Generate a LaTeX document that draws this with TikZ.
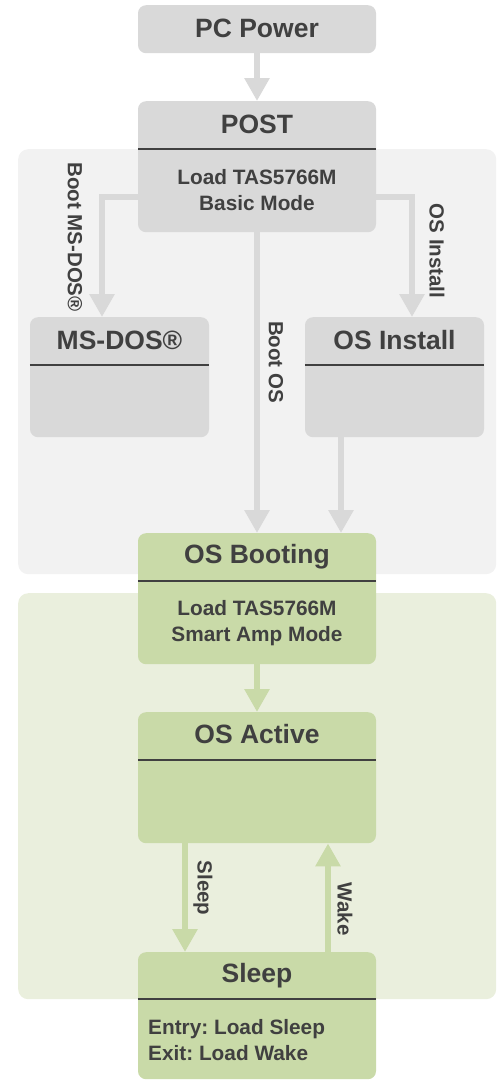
\documentclass[tikz,border=0pt]{standalone}
\usepackage{fontspec}
\setmainfont{Liberation Sans}
\usetikzlibrary{arrows.meta}
\frenchspacing
\definecolor{txt}{HTML}{404040}
\definecolor{graybox}{HTML}{D9D9D9}
\definecolor{graybg}{HTML}{F2F2F2}
\definecolor{greenbox}{HTML}{C9DAA8}
\definecolor{greenbg}{HTML}{EAEFDD}
\tikzset{
  zone/.style={draw=none, rounded corners=10pt, inner sep=0pt, anchor=north west},
  statebox/.style={draw=none, rounded corners=8pt, inner sep=0pt, anchor=north, minimum width=238pt},
  smallbox/.style={statebox, minimum width=179pt, minimum height=120pt},
  divider/.style={draw=txt, line width=1.2pt},
  titletext/.style={font=\bfseries\fontsize{26.5}{30}\selectfont, text=txt, anchor=base, inner sep=0pt},
  subtext/.style={font=\bfseries\fontsize{20.8}{26}\selectfont\frenchspacing, text=txt, align=center, anchor=base, inner sep=0pt},
  lbl/.style={font=\bfseries\fontsize{20.5}{24}\selectfont, text=txt, rotate=-90, inner sep=0pt},
  flow/.style={line width=6pt, -{Triangle[width=24pt,length=23pt]}},
  grayflow/.style={flow, draw=graybox},
  greenflow/.style={flow, draw=greenbox},
}
\begin{document}
\begin{tikzpicture}[x=1pt,y=-1pt]
\useasboundingbox (0,0) rectangle (499,1080);
% zones
\node[zone, fill=graybg, minimum width=478pt, minimum height=425pt] (grayzone) at (18,149) {};
\node[zone, fill=greenbg, minimum width=478pt, minimum height=406pt] (greenzone) at (18,593) {};
% boxes
\node[statebox, fill=graybox, minimum height=48pt] (pcpower) at (257,5) {};
\node[statebox, fill=graybox, minimum height=131pt] (post) at (257,101) {};
\node[smallbox, fill=graybox] (msdos) at (119.5,317) {};
\node[smallbox, fill=graybox] (osinst) at (394.5,317) {};
\node[statebox, fill=greenbox, minimum height=131pt] (osboot) at (257,533) {};
\node[statebox, fill=greenbox, minimum height=131pt] (osact) at (257,712) {};
\node[statebox, fill=greenbox, minimum height=127pt] (sleep) at (257,952) {};
% dividers
\draw[divider] ([yshift=-48pt]post.north west) -- ([yshift=-48pt]post.north east);
\draw[divider] ([yshift=-48pt]msdos.north west) -- ([yshift=-48pt]msdos.north east);
\draw[divider] ([yshift=-48pt]osinst.north west) -- ([yshift=-48pt]osinst.north east);
\draw[divider] ([yshift=-48pt]osboot.north west) -- ([yshift=-48pt]osboot.north east);
\draw[divider] ([yshift=-48pt]osact.north west) -- ([yshift=-48pt]osact.north east);
\draw[divider] ([yshift=-47pt]sleep.north west) -- ([yshift=-47pt]sleep.north east);
% titles
\node[titletext] (pcpowert) at (257,37) {PC Power};
\node[titletext] (postt) at (257,133) {POST};
\node[titletext] (msdost) at (119.5,349) {MS-DOS®};
\node[titletext] (osinstt) at (394.5,349) {OS Install};
\node[titletext] (osboott) at (257,563) {OS Booting};
\node[titletext] (osactt) at (257,743) {OS Active};
\node[titletext] (sleept) at (257,982) {Sleep};
% sub texts
\node[subtext] (posts) at (257,210) {Load TAS5766M\\Basic Mode};
\node[subtext] (osboots) at (257,641) {Load TAS5766M\\Smart Amp Mode};
\node[subtext, align=left, anchor=base west] (sleeps) at (148,1060) {Entry: Load Sleep\\Exit: Load Wake};
% connectors
\draw[grayflow] (pcpower.south) -- (post.north);
\draw[grayflow] ([yshift=-96pt]post.north west) -| ([xshift=-17.5pt]msdos.north);
\draw[grayflow] ([yshift=-96pt]post.north east) -| ([xshift=17.5pt]osinst.north);
\draw[grayflow] (post.south) -- (osboot.north);
\draw[grayflow] ([xshift=-53.5pt]osinst.south) -- ([xshift=84pt]osboot.north);
\draw[greenflow] (osboot.south) -- (osact.north);
\draw[greenflow] ([xshift=-72pt]osact.south) -- ([xshift=-72pt]sleep.north);
\draw[greenflow] ([xshift=71pt]sleep.north) -- ([xshift=71pt]osact.south);
% connector labels
\node[lbl] (lmsdos) at (75,237) {Boot MS-DOS®};
\node[lbl] (linst) at (437,251) {OS Install};
\node[lbl] (lbootos) at (276,362) {Boot OS};
\node[lbl] (lsleep) at (203,888) {Sleep};
\node[lbl] (lwake) at (345,909) {Wake};
\end{tikzpicture}
\end{document}
